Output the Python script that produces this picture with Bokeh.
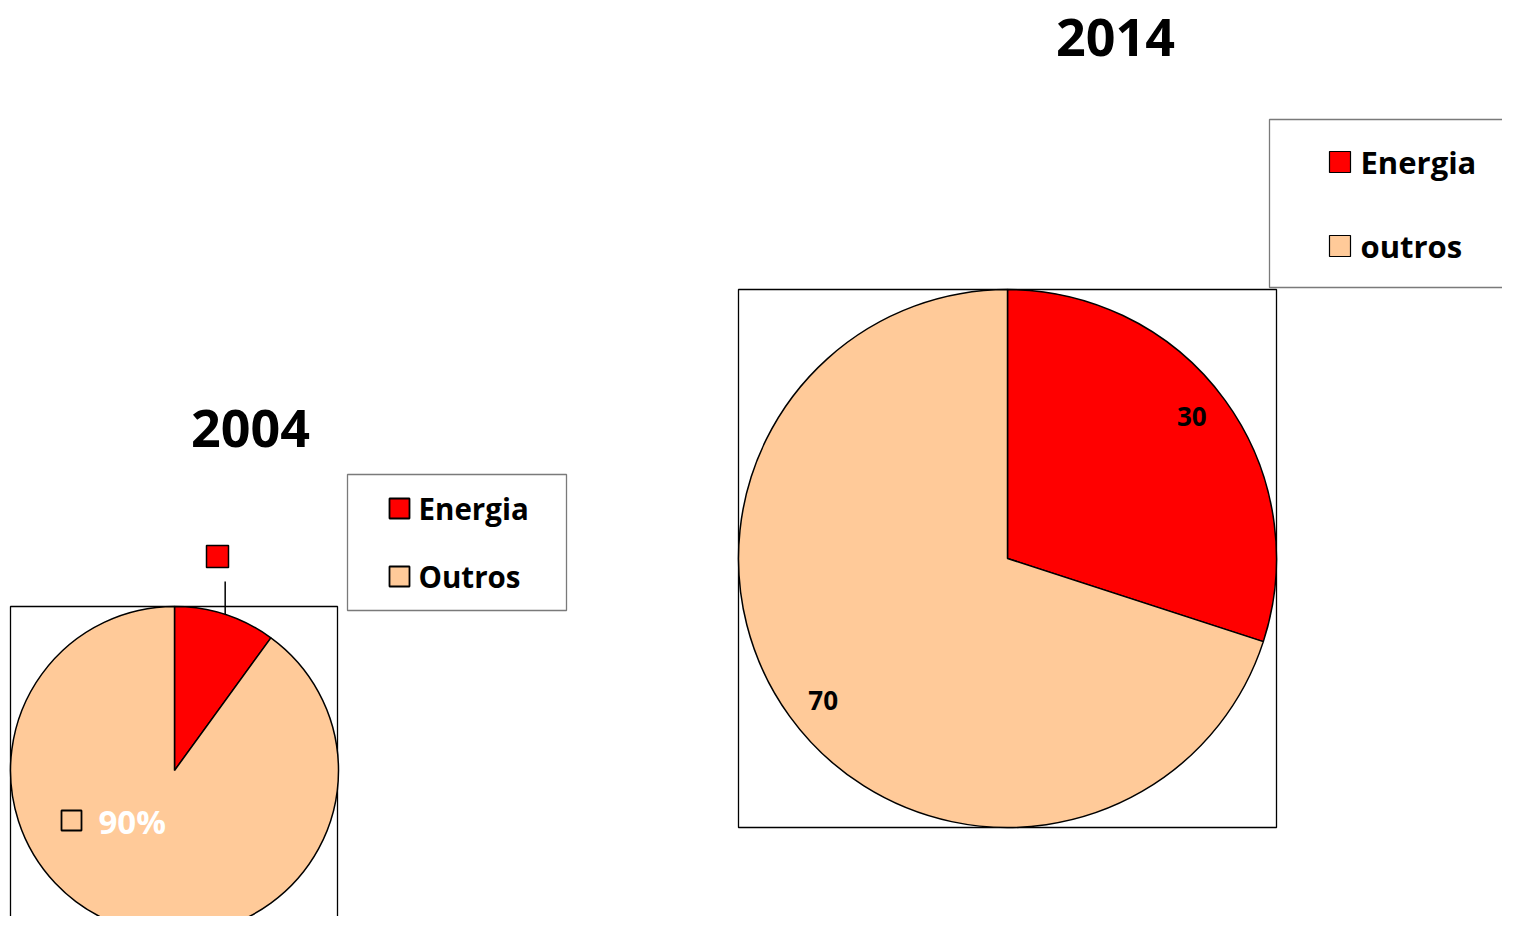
import math
from bokeh.plotting import figure
from bokeh.models import Range1d
from bokeh.core.properties import value
from bokeh.embed import file_html
from bokeh.resources import INLINE

# ---- data ----
years = ["2004", "2014"]
cats_2004 = ["Energia", "Outros"]
vals_2004 = [10, 90]
cats_2014 = ["Energia", "outros"]
vals_2014 = [30, 70]
colors = ["#FF0000", "#FFCA99"]

FONT = value("Open Sans")
W, H = 1502, 916


def X(ix):
    return ix


def Y(iy):
    return H - iy


def angles(vals):
    tot = float(sum(vals))
    starts, ends, c = [], [], 0.0
    for v in vals:
        starts.append(math.pi / 2 - 2 * math.pi * c / tot)
        c += v
        ends.append(math.pi / 2 - 2 * math.pi * c / tot)
    return starts, ends


p = figure(width=W, height=H, x_range=Range1d(0, W), y_range=Range1d(0, H),
           output_backend="svg", toolbar_location=None, min_border=0,
           x_axis_location=None, y_axis_location=None)
p.grid.visible = False
p.outline_line_color = None
p.background_fill_color = "white"

# ---- plot-area boxes ----
p.quad(left=[X(10), X(738)], right=[X(337), X(1276)],
       top=[Y(606), Y(289)], bottom=[Y(960), Y(827)],
       fill_color=None, line_color="black", line_width=1.3)

# ---- pies ----
pies = [
    (vals_2004, 174, 770, 164),
    (vals_2014, 1007, 558, 269),
]
for vals, cx, cy, r in pies:
    s, e = angles(vals)
    p.wedge(x=[X(cx)] * len(vals), y=[Y(cy)] * len(vals), radius=r,
            start_angle=s, end_angle=e, direction="clock",
            fill_color=colors, line_color="black", line_width=1.5)

# ---- titles ----
p.text(x=[X(250), X(1115)], y=[Y(428), Y(37)], text=years,
       text_font=FONT, text_font_style="bold", text_font_size=value("52px"),
       text_align="center", text_baseline="middle", text_color="black")

# ---- 2014 data labels (inside, near slice mid-angle) ----
cx, cy, r = 1007, 558, 269
s, e = angles(vals_2014)
lx, ly, lt = [], [], []
for i, v in enumerate(vals_2014):
    mid = (s[i] + e[i]) / 2 + math.radians(1.6)
    lx.append(X(cx + 0.865 * r * math.cos(mid)))
    ly.append(Y(cy - 0.865 * r * math.sin(mid)))
    lt.append(str(v))
p.text(x=lx, y=ly, text=lt, text_font=FONT, text_font_style="bold",
       text_font_size=value("26px"), text_align="center",
       text_baseline="middle", text_color="black")

# ---- 2004 data labels ----
cx, cy, r = 174, 770, 164
s, e = angles(vals_2004)
mid0 = (s[0] + e[0]) / 2
ax = cx + r * math.cos(mid0)
ay = cy - r * math.sin(mid0)
p.segment(x0=[X(ax)], y0=[Y(ay)], x1=[X(ax)], y1=[Y(581)],
          line_color="black", line_width=1.5)
p.quad(left=[X(206)], right=[X(228)], top=[Y(545)], bottom=[Y(567)],
       fill_color=colors[0], line_color="black", line_width=1.5)
p.quad(left=[X(61)], right=[X(81)], top=[Y(810)], bottom=[Y(830)],
       fill_color=colors[1], line_color="black", line_width=1.8)
pct = "%d%%" % round(100.0 * vals_2004[1] / sum(vals_2004))
p.text(x=[X(98)], y=[Y(821)], text=[pct], text_font=FONT,
       text_font_style="bold", text_font_size=value("33px"),
       text_align="left", text_baseline="middle", text_color="white")

# ---- legends ----
p.quad(left=[X(347), X(1269)], right=[X(566), X(1540)],
       top=[Y(474), Y(119)], bottom=[Y(610), Y(287)],
       fill_color="white", line_color="#7a7a7a", line_width=1.3)

# 2004 legend
p.quad(left=[X(389)] * 2, right=[X(409)] * 2,
       top=[Y(498), Y(566)], bottom=[Y(518), Y(586)],
       fill_color=colors, line_color="black", line_width=1.8)
p.text(x=[X(418)] * 2, y=[Y(508), Y(576)], text=cats_2004, text_font=FONT,
       text_font_style="bold", text_font_size=value("29.5px"),
       text_align="left", text_baseline="middle", text_color="black")

# 2014 legend
p.quad(left=[X(1329)] * 2, right=[X(1350)] * 2,
       top=[Y(151), Y(235)], bottom=[Y(172), Y(256)],
       fill_color=colors, line_color="black", line_width=1.2)
p.text(x=[X(1360)] * 2, y=[Y(161), Y(245)], text=cats_2014, text_font=FONT,
       text_font_style="bold", text_font_size=value("31px"),
       text_align="left", text_baseline="middle", text_color="black")

open("out.html", "w").write(file_html(p, INLINE))
